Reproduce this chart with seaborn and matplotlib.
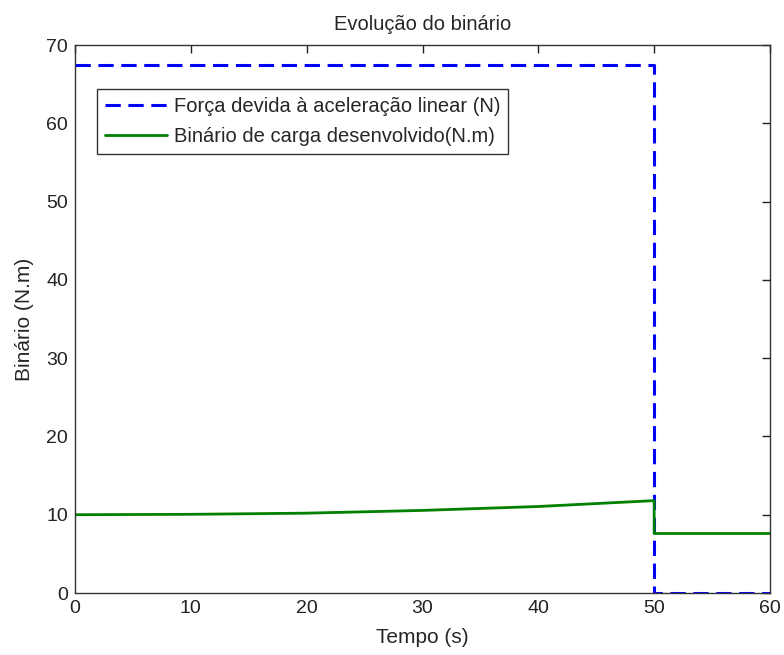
import matplotlib
matplotlib.use("Agg")
import matplotlib.pyplot as plt
import seaborn as sns
import pandas as pd

# Data
force_t = [0, 50, 50, 60]
force_v = [67.4, 67.4, 0.0, 0.0]

torque_t = [0, 10, 20, 30, 40, 50, 50, 60]
torque_v = [10.0, 10.05, 10.2, 10.55, 11.05, 11.8, 7.6, 7.6]

label_force = "Força devida à aceleração linear (N)"
label_torque = "Binário de carga desenvolvido(N.m)"

sns.set_style("white")
plt.rcParams['font.family'] = ['Liberation Sans', 'DejaVu Sans']

fig = plt.figure(figsize=(7.84, 6.55), dpi=100)
ax = fig.add_axes([75/784, 1-593/655, (770-75)/784, (593-45)/655])

df_f = pd.DataFrame({"t": force_t, "v": force_v})
df_g = pd.DataFrame({"t": torque_t, "v": torque_v})

sns.lineplot(data=df_f, x="t", y="v", ax=ax, sort=False, color=(0, 0, 1),
             linewidth=2.2, label=label_force, estimator=None)
ax.lines[-1].set_dashes((5, 2.5))
sns.lineplot(data=df_g, x="t", y="v", ax=ax, sort=False, color=(0, 0.5, 0),
             linewidth=2.0, label=label_torque, estimator=None)

ax.set_xlim(0, 60)
ax.set_ylim(0, 70)
ax.set_xticks(range(0, 61, 10))
ax.set_yticks(range(0, 71, 10))
ax.tick_params(direction="in", top=True, right=True, length=6, width=1,
               labelsize=14, colors="#222222", pad=5)
for s in ax.spines.values():
    s.set_color("#333333")
    s.set_linewidth(1)

ax.set_title("Evolução do binário", fontsize=14.5, pad=11)
ax.set_xlabel("Tempo (s)", fontsize=15, labelpad=8)
ax.set_ylabel("Binário (N.m)", fontsize=15, labelpad=9)

leg = ax.legend(loc="upper left", bbox_to_anchor=(22/695, (593-89)/548), borderaxespad=0,
                fontsize=14.5, frameon=True, fancybox=False, handlelength=3.1,
                handletextpad=0.3, borderpad=0.4, labelspacing=0.55)
leg.get_frame().set_edgecolor("black")
leg.get_frame().set_linewidth(1)

fig.savefig("out.png", dpi=100)
